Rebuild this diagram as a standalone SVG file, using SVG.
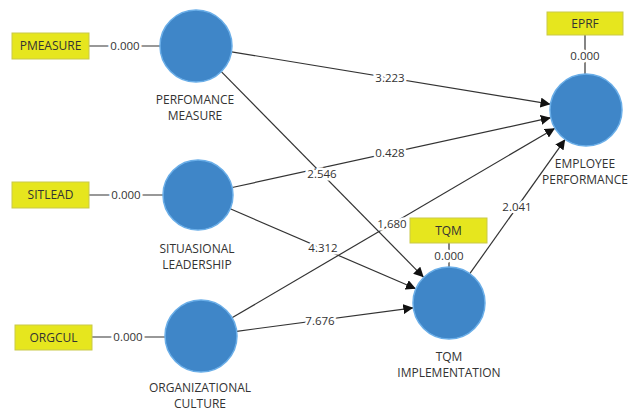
<svg xmlns="http://www.w3.org/2000/svg" width="632" height="411" viewBox="0 0 632 411">
<defs>
<marker id="arr" viewBox="0 0 10 10" refX="10" refY="5" markerWidth="10" markerHeight="10" markerUnits="userSpaceOnUse" orient="auto">
<path d="M0,0 L10,5 L0,10 z" fill="#111"/>
</marker>
<style>
.lv{fill:#3f86c8;stroke:#6aaee8;stroke-width:1.5}
.ind{fill:#e6e61e;stroke:#c9c94a;stroke-width:1}
.t{font-family:"Open Sans","Noto Sans",sans-serif;font-size:12px;fill:#333;text-anchor:middle}
.e{stroke:#333;stroke-width:1.2;fill:none}
.a{marker-end:url(#arr)}
.n{font-family:"Open Sans","Noto Sans",sans-serif;font-size:11.5px;fill:#333;text-anchor:middle;stroke:#fff;stroke-width:5;paint-order:stroke;stroke-linejoin:round}
</style>
</defs>
<rect width="632" height="411" fill="#fff"/>
<g id="connectors">
<line class="e" x1="89" y1="46" x2="160" y2="46"/>
<line class="e" x1="89" y1="195" x2="163" y2="195"/>
<line class="e" x1="92" y1="337" x2="165" y2="337"/>
<line class="e" x1="585" y1="35" x2="585" y2="74"/>
<line class="e" x1="449" y1="243" x2="449" y2="267"/>
<line class="e a" x1="231.5" y1="51.8" x2="550.5" y2="104.2"/>
<line class="e a" x1="232.2" y1="187.5" x2="550.8" y2="117.7"/>
<line class="e a" x1="232" y1="317.8" x2="555" y2="128.2"/>
<line class="e a" x1="469.8" y1="273.7" x2="565.2" y2="139.3"/>
<line class="e a" x1="221.3" y1="71.7" x2="423.7" y2="277.3"/>
<line class="e a" x1="230.2" y1="208.8" x2="415.9" y2="288.8"/>
<line class="e a" x1="236.7" y1="331.3" x2="413.3" y2="307.8"/>
<text class="n" x="125" y="50">0.000</text>
<text class="n" x="126" y="199">0.000</text>
<text class="n" x="128" y="341">0.000</text>
<text class="n" x="585" y="60">0.000</text>
<text class="n" x="449" y="260">0.000</text>
<text class="n" x="390" y="82">3.223</text>
<text class="n" x="390" y="157">0.428</text>
<text class="n" x="322" y="178">2.546</text>
<text class="n" x="392" y="228">1.680</text>
<text class="n" x="517" y="211">2.041</text>
<text class="n" x="323" y="252">4.312</text>
<text class="n" x="320" y="325">7.676</text>
</g>
<g id="PMEASURE"><rect class="ind" x="12" y="33" width="77" height="26"/><text class="t" x="50.5" y="50">PMEASURE</text></g>
<g id="SITLEAD"><rect class="ind" x="12" y="182" width="77" height="26"/><text class="t" x="50.5" y="199">SITLEAD</text></g>
<g id="ORGCUL"><rect class="ind" x="15" y="325" width="77" height="25"/><text class="t" x="53.5" y="342">ORGCUL</text></g>
<g id="EPRF"><rect class="ind" x="547" y="12" width="76" height="23"/><text class="t" x="585" y="28">EPRF</text></g>
<g id="TQM"><rect class="ind" x="410" y="218" width="77" height="25"/><text class="t" x="448.5" y="235">TQM</text></g>
<g id="performance-measure"><circle class="lv" cx="196" cy="46" r="36"/><text class="t" x="195" y="104">PERFOMANCE</text><text class="t" x="195" y="120">MEASURE</text></g>
<g id="situasional-leadership"><circle class="lv" cx="198" cy="195" r="35"/><text class="t" x="197" y="253">SITUASIONAL</text><text class="t" x="197" y="269">LEADERSHIP</text></g>
<g id="organizational-culture"><circle class="lv" cx="201" cy="336" r="36"/><text class="t" x="200" y="392">ORGANIZATIONAL</text><text class="t" x="200" y="408">CULTURE</text></g>
<g id="employee-performance"><circle class="lv" cx="586" cy="110" r="36"/><text class="t" x="585" y="168">EMPLOYEE</text><text class="t" x="585" y="184">PERFORMANCE</text></g>
<g id="tqm-implementation"><circle class="lv" cx="449" cy="303" r="36"/><text class="t" x="449" y="361">TQM</text><text class="t" x="449" y="377">IMPLEMENTATION</text></g>
</svg>
